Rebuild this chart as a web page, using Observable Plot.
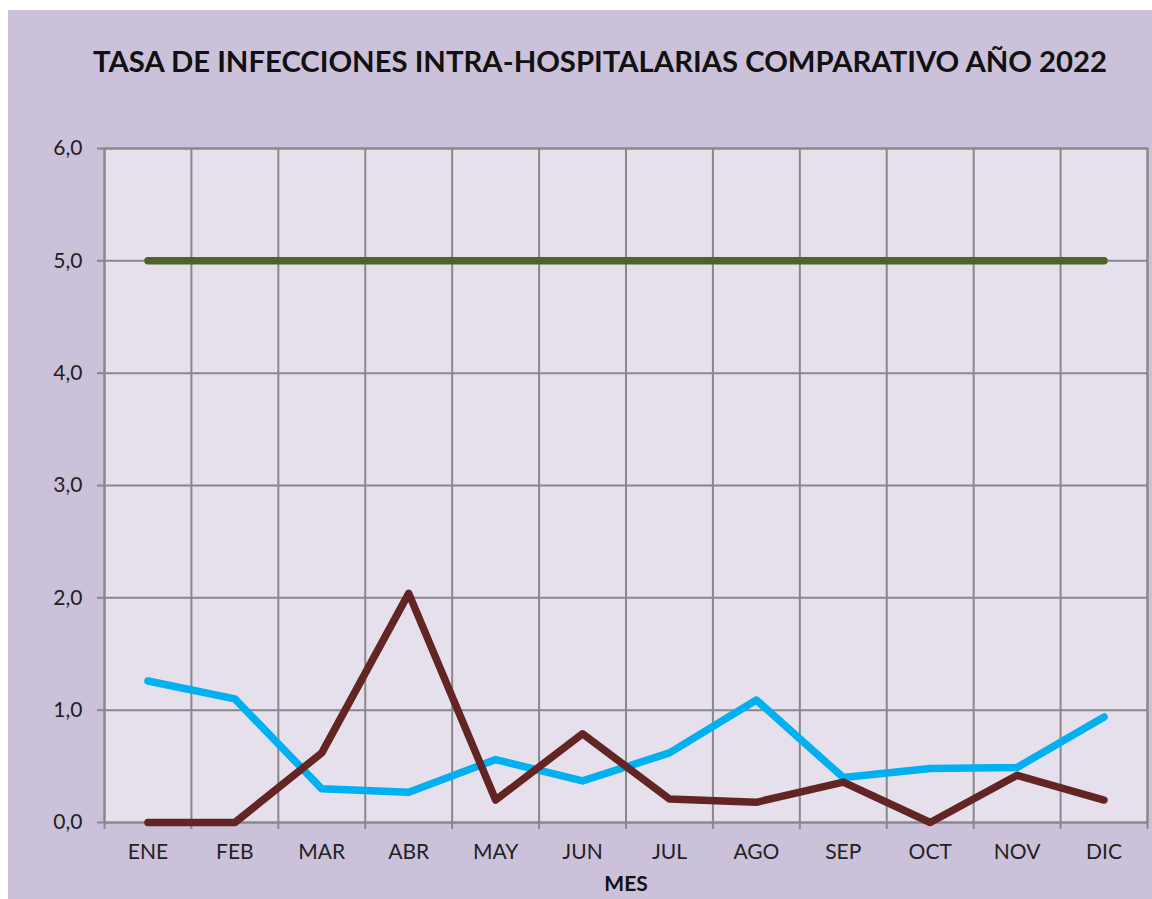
<!DOCTYPE html>
<html>
<head>
<meta charset="utf-8">
<script src="https://cdn.jsdelivr.net/npm/d3@7"></script>
<script src="https://cdn.jsdelivr.net/npm/@observablehq/plot@0.6"></script>
<style>
  html, body { margin: 0; padding: 0; background: #ffffff; width: 1152px; height: 899px; overflow: hidden; }
  #panel { position: absolute; left: 8px; top: 10px; width: 1144px; height: 889px; background: #ccc1da; }
  #title { position: absolute; left: 60px; width: 1080px; top: 46px; text-align: center;
           font-family: Lato, "Open Sans", sans-serif; font-weight: bold; font-size: 29.3px; line-height: 1; color: #111; white-space: nowrap; }
  #chart { position: absolute; left: 0; top: 110px; }
</style>
</head>
<body>
<div id="panel"></div>
<div id="title">TASA DE INFECCIONES INTRA-HOSPITALARIAS COMPARATIVO AÑO 2022</div>
<div id="chart"></div>
<script>
const months = ["ENE","FEB","MAR","ABR","MAY","JUN","JUL","AGO","SEP","OCT","NOV","DIC"];
const serieAzul   = [1.26, 1.10, 0.30, 0.27, 0.56, 0.37, 0.62, 1.09, 0.40, 0.48, 0.49, 0.94];
const serieMarron = [0.00, 0.00, 0.62, 2.04, 0.20, 0.79, 0.21, 0.18, 0.36, 0.00, 0.42, 0.20];
const serieVerde  = [5.0, 5.0, 5.0, 5.0, 5.0, 5.0, 5.0, 5.0, 5.0, 5.0, 5.0, 5.0];
const yTicks = [0, 1, 2, 3, 4, 5, 6];
const seriesNames = ["Estándar", "Serie A", "Serie B"];
const seriesColors = ["#4f6228", "#00b0f0", "#632523"];

const idx = months.map((m, i) => i);
const bounds = [-0.5, ...months.map((m, i) => i + 0.5)];

const rows = [];
[serieVerde, serieAzul, serieMarron].forEach((vals, s) => {
  vals.forEach((v, i) => rows.push({ i, mes: months[i], valor: v, serie: seriesNames[s] }));
});

const fmt = d => d.toFixed(1).replace(".", ",");
const grid = "#888888";

const chart = Plot.plot({
  width: 1152,
  height: 789,
  marginLeft: 104,
  marginRight: 5,
  marginTop: 38,
  marginBottom: 77,
  x: { type: "linear", domain: [-0.5, 11.5] },
  y: { domain: [0, 6] },
  color: { domain: seriesNames, range: seriesColors },
  style: { background: "transparent", fontFamily: "Lato, 'Open Sans', sans-serif", fontSize: "21px", color: "#222" },
  marks: [
    Plot.frame({ fill: "#e5e0ec", stroke: grid, strokeWidth: 2 }),
    Plot.ruleY(yTicks, { stroke: grid, strokeWidth: 2 }),
    Plot.ruleX(bounds, { stroke: grid, strokeWidth: 2 }),
    Plot.axisY({ ticks: yTicks, tickSize: 7, tickPadding: 15, tickFormat: fmt, label: null, stroke: grid, strokeWidth: 2, strokeOpacity: 1 }),
    Plot.axisX({ ticks: bounds, tickSize: 7, tickFormat: () => "", label: null, stroke: grid, strokeWidth: 2, strokeOpacity: 1 }),
    Plot.axisX({ ticks: idx, tickSize: 0, tickPadding: 22, tickFormat: i => months[i], label: null }),
    Plot.line(rows, { x: "i", y: "valor", z: "serie", stroke: "serie", strokeWidth: 7.5, strokeLinecap: "round", strokeLinejoin: "round" }),
    Plot.text(["MES"], { frameAnchor: "bottom", lineAnchor: "top", dy: 54, fontWeight: "bold", fill: "#111" })
  ]
});
document.getElementById("chart").appendChild(chart);
</script>
</body>
</html>
